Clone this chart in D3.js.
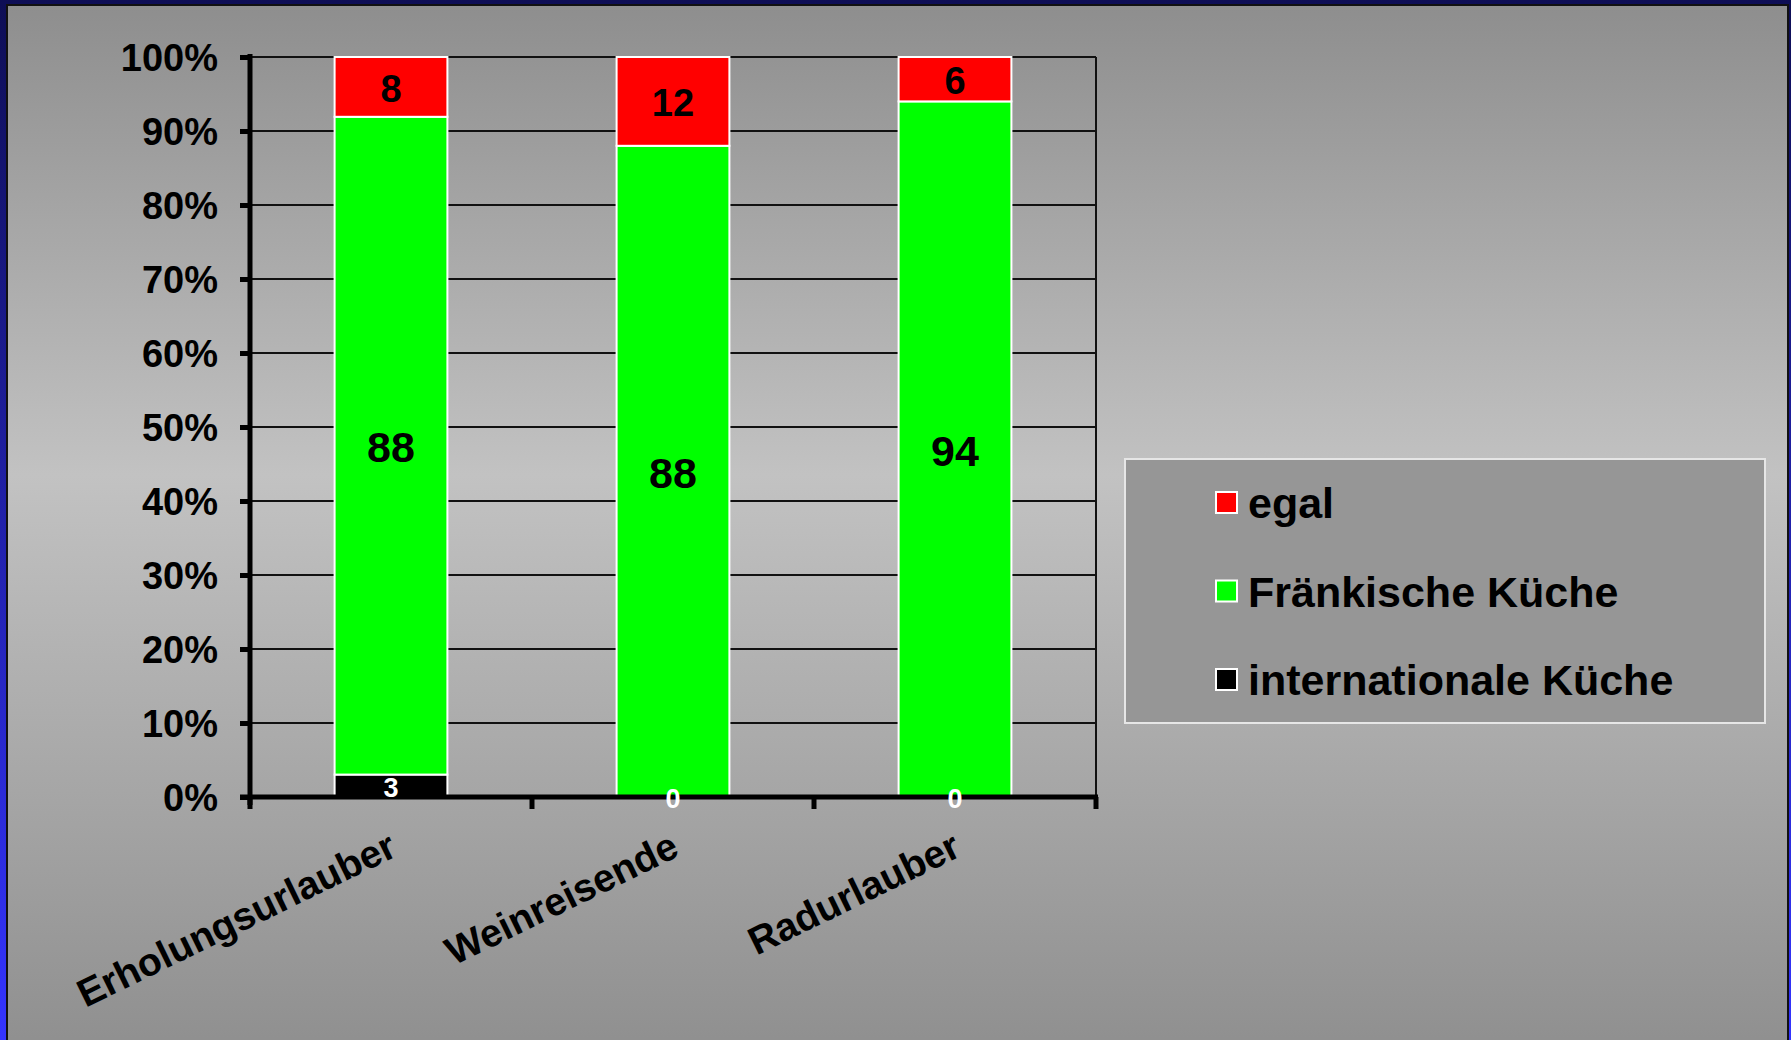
<!DOCTYPE html>
<html>
<head>
<meta charset="utf-8">
<script src="https://cdn.jsdelivr.net/npm/d3@7"></script>
<style>
body { margin:0; background:#10105a; overflow:hidden; }
svg { display:block; font-family:"Liberation Sans", Arial, sans-serif; font-weight:bold; }
</style>
</head>
<body>
<script>
var categories = ["Erholungsurlauber", "Weinreisende", "Radurlauber"];
var seriesNames = ["internationale Küche", "Fränkische Küche", "egal"];
var international = [3, 0, 0];
var fraenkisch = [88, 88, 94];
var egal = [8, 12, 6];
var colors = ["#000000", "#00ff00", "#ff0000"];
var yTicks = [0, 0.1, 0.2, 0.3, 0.4, 0.5, 0.6, 0.7, 0.8, 0.9, 1];

var w = 1791, h = 1040;
var svg = d3.select("body").append("svg").attr("width", w).attr("height", h);

var defs = svg.append("defs");
var frame = defs.append("linearGradient").attr("id", "frame")
	.attr("x1", 0).attr("y1", 0).attr("x2", 0).attr("y2", 1);
frame.append("stop").attr("offset", "0%").attr("stop-color", "#0e0e55");
frame.append("stop").attr("offset", "100%").attr("stop-color", "#3434ff");
var panel = defs.append("linearGradient").attr("id", "panel")
	.attr("x1", 0).attr("y1", 0).attr("x2", 0).attr("y2", 1);
panel.append("stop").attr("offset", "0%").attr("stop-color", "#8e8e8e");
panel.append("stop").attr("offset", "45%").attr("stop-color", "#c2c2c2");
panel.append("stop").attr("offset", "100%").attr("stop-color", "#8f8f8f");

svg.append("rect").attr("width", w).attr("height", h).attr("fill", "url(#frame)");
svg.append("rect").attr("x", 7).attr("y", 5).attr("width", 1781).attr("height", 1045)
	.attr("fill", "url(#panel)").attr("stroke", "#111").attr("stroke-width", 2);

// plot area
var pLeft = 250, pRight = 1096, pTop = 57, pBottom = 797;

var x = d3.scaleBand().domain(categories).range([pLeft, pRight]).paddingInner(0.6).paddingOuter(0.3);
var band = (pRight - pLeft) / categories.length;
var y = d3.scaleLinear().domain([0, 1]).range([pBottom, pTop]);

// gridlines
svg.append("g").selectAll("line").data(yTicks.slice(1)).enter().append("line")
	.attr("x1", pLeft).attr("x2", pRight)
	.attr("y1", function(d){ return y(d); }).attr("y2", function(d){ return y(d); })
	.attr("stroke", "#111").attr("stroke-width", 2);
svg.append("line").attr("x1", pRight).attr("x2", pRight).attr("y1", pTop).attr("y2", pBottom)
	.attr("stroke", "#111").attr("stroke-width", 2);

// stacked data normalised to 100%
var rows = categories.map(function(c, i){
	var vals = [international[i], fraenkisch[i], egal[i]];
	var total = d3.sum(vals), acc = 0;
	return vals.map(function(v, k){
		var seg = {cat:c, k:k, v:v, y0:acc/total, y1:(acc+v)/total};
		acc += v;
		return seg;
	});
});
var segs = [].concat.apply([], rows);

svg.append("g").selectAll("rect").data(segs.filter(function(d){ return d.v > 0; })).enter().append("rect")
	.attr("x", function(d){ return x(d.cat); })
	.attr("width", x.bandwidth())
	.attr("y", function(d){ return y(d.y1); })
	.attr("height", function(d){ return y(d.y0) - y(d.y1); })
	.attr("fill", function(d){ return colors[d.k]; })
	.attr("stroke", "#fff").attr("stroke-width", 2);

// axes
var yAxis = svg.append("g").attr("transform", "translate(" + pLeft + ",0)")
	.call(d3.axisLeft(y).tickValues(yTicks).tickFormat(d3.format(".0%")).tickSize(10).tickPadding(22));
yAxis.select(".domain").attr("stroke", "#000").attr("stroke-width", 5).attr("d", "M0," + (pTop-3) + "V" + (pBottom+8));
yAxis.selectAll(".tick line").attr("stroke", "#000").attr("stroke-width", 5);
yAxis.selectAll(".tick text").attr("font-size", 38).attr("fill", "#000").attr("dy", "0.36em");

var xAxis = svg.append("g");
xAxis.append("line").attr("x1", pLeft - 10).attr("x2", pRight + 2).attr("y1", pBottom).attr("y2", pBottom)
	.attr("stroke", "#000").attr("stroke-width", 5);
xAxis.selectAll(".xt").data(d3.range(categories.length + 1)).enter().append("line")
	.attr("x1", function(i){ return pLeft + i*band; }).attr("x2", function(i){ return pLeft + i*band; })
	.attr("y1", pBottom).attr("y2", pBottom + 12)
	.attr("stroke", "#000").attr("stroke-width", 5);
xAxis.selectAll("text").data(categories).enter().append("text")
	.attr("text-anchor", "end")
	.attr("font-size", 39)
	.attr("transform", function(d){ return "translate(" + (x(d) + x.bandwidth()/2 + 8) + "," + (pBottom + 58) + ") rotate(-26)"; })
	.text(function(d){ return d; });

// value labels
var labelSize = [27, 43, 38];
svg.append("g").selectAll("text").data(segs).enter().append("text")
	.attr("x", function(d){ return x(d.cat) + x.bandwidth()/2; })
	.attr("y", function(d){ return d.v == 0 ? y(0) + 1 : (y(d.y0)+y(d.y1))/2 + 1; })
	.attr("dy", "0.36em")
	.attr("text-anchor", "middle")
	.attr("font-size", function(d){ return labelSize[d.k]; })
	.attr("fill", function(d){ return d.k == 0 ? "#fff" : "#000"; })
	.text(function(d){ return d.v; });

// legend
var lg = svg.append("g");
lg.append("rect").attr("x", 1125).attr("y", 459).attr("width", 640).attr("height", 264)
	.attr("fill", "#969696").attr("stroke", "#e6e6e6").attr("stroke-width", 2);
var order = [2, 1, 0];
var item = lg.selectAll(".item").data(order).enter().append("g")
	.attr("transform", function(k, i){ return "translate(1216," + (492 + i*88.5) + ")"; });
item.append("rect").attr("width", 21).attr("height", 21)
	.attr("fill", function(k){ return colors[k]; }).attr("stroke", "#fff").attr("stroke-width", 2);
item.append("text").attr("x", 32).attr("y", 26).attr("font-size", 43).attr("fill", "#000")
	.text(function(k){ return seriesNames[k]; });
</script>
</body>
</html>
